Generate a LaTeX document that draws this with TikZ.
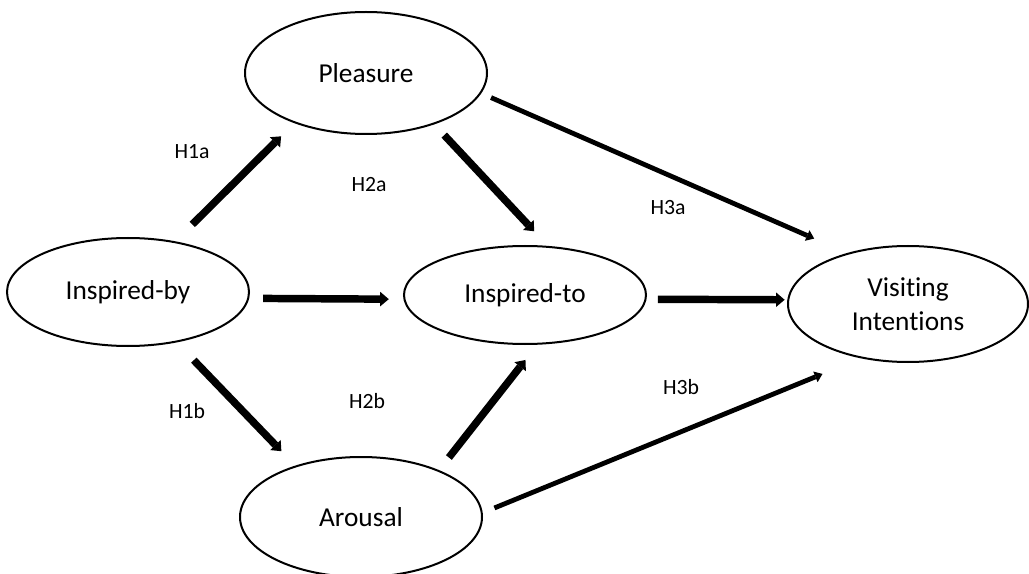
\documentclass[tikz,border=0pt]{standalone}
\usepackage{fontspec}
\setmainfont{Carlito}[Ligatures = NoCommon]
\usetikzlibrary{arrows.meta}
\usetikzlibrary{shapes}

\begin{document}
\begin{tikzpicture}[x = 0.75pt, y = -0.75pt, font = \fontsize{20.5}{25.5}\selectfont]
	\tikzstyle{ovalStyle} = [shape = ellipse, draw, line width = 1.5pt, inner sep = 0pt, align = center]
	\tikzstyle{hypStyle} = [font = \fontsize{16.3}{19}\selectfont, inner sep = 0pt]
	\tikzstyle{thickArrow} = [line width = 5.6pt, -{Triangle[length = 0pt 1.15, width = 0pt 1.95, line width = 0pt]}]
	\tikzstyle{thinArrow} = [line width = 3.6pt, -{Triangle[length = 0pt 1.6, width = 0pt 2.4, line width = 0pt]}]
	\useasboundingbox (0, 0) rectangle (1029, 574);
	\node[ovalStyle, minimum width = 181.5pt, minimum height = 81pt] (v0) at (128, 292) {Inspired-by};
	\node[ovalStyle, minimum width = 181.5pt, minimum height = 91.5pt] (v1) at (366, 73) {Pleasure};
	\node[ovalStyle, minimum width = 181.5pt, minimum height = 90pt] (v2) at (361, 517) {Arousal};
	\node[ovalStyle, minimum width = 181.5pt, minimum height = 73.5pt] (v3) at (525, 295) {Inspired-to};
	\node[ovalStyle, minimum width = 180pt, minimum height = 87pt] (v4) at (908, 304) {Visiting\\Intentions};
	\node[hypStyle] (h1a) at (192, 152) {H1a};
	\node[hypStyle] (h1b) at (187, 411) {H1b};
	\node[hypStyle] (h2a) at (369, 185) {H2a};
	\node[hypStyle] (h2b) at (367, 401) {H2b};
	\node[hypStyle] (h3a) at (668, 208) {H3a};
	\node[hypStyle] (h3b) at (681, 387) {H3b};
	\draw[thickArrow, shorten <= 18pt, shorten >= 14pt] (v0.47) -- (v1.-145);
	\draw[thickArrow, shorten <= 18.5pt, shorten >= 15pt] (v0.-46) -- (v2.142);
	\draw[thickArrow, shorten <= 10.5pt, shorten >= 11pt] (v0.-3) -- (v3.182);
	\draw[thickArrow, shorten <= 11pt, shorten >= 15pt] (v1.-37) -- (v3.65);
	\draw[thickArrow, shorten <= 12pt, shorten >= 14.5pt] (v2.31) -- (v3.-76);
	\draw[thickArrow, shorten <= 8.5pt, shorten >= 2pt] (v3.-2) -- (v4.178);
	\draw[thinArrow, shorten <= 8pt, shorten >= 27pt] (v1.-10) -- (v4.140);
	\draw[thinArrow, shorten <= 9.5pt, shorten >= 31pt] (v2.2.5) -- (v4.-131);
\end{tikzpicture}
\end{document}
